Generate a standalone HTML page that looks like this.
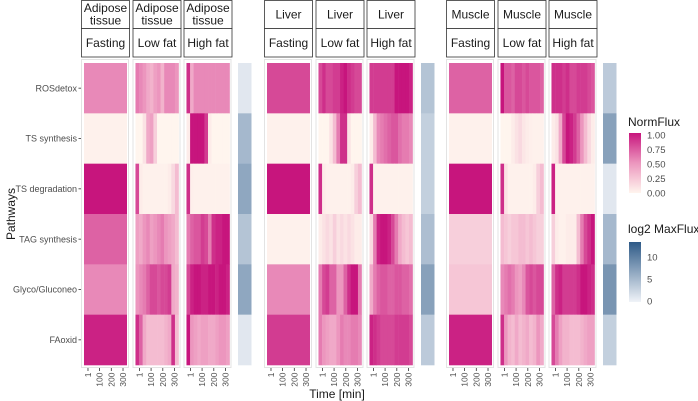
<!DOCTYPE html>
<html><head><meta charset="utf-8"><style>
body{margin:0;background:#fff;}
svg{font-family:"Liberation Sans",sans-serif;display:block}
</style></head><body>
<svg id="c" width="698" height="401" xmlns="http://www.w3.org/2000/svg"></svg>
<script>
const pathways = ["ROSdetox","TS synthesis","TS degradation","TAG synthesis","Glyco/Gluconeo","FAoxid"];
const tissues = ["Adipose tissue","Liver","Muscle"];
const conditions = ["Fasting","Low fat","High fat"];
const times = [-18,13,43,74,104,135,166,196,227,257,288,319];
const timeTicks = [1,100,200,300];
const normTicks = [0,0.25,0.5,0.75,1];
const maxTicks = [0,5,10];
const maxAdipose = [1,5,6.5,4,6.5,1];
const maxLiver = [4,3,3,4.5,7,3.5];
const maxMuscle = [3.5,7,1,5,8,3];
const adiFast = [[0.55],[0.02],[1],[0.7],[0.55],[0.95]];
const adiLow = [
 [0.6,0.55,0.5,0.4,0.35,0.45,0.5,0.35,0.55,0.55,0.55,0.5],
 [0,0,0.1,0.4,0.45,0.2,0,0,0,0,0,0],
 [0.8,0.05,0.02,0.02,0.02,0.02,0.02,0.02,0.02,0.05,0.15,0.3],
 [0.45,0.4,0.5,0.55,0.45,0.5,0.55,0.6,0.5,0.45,0.4,0.3],
 [0.5,0.55,0.6,0.7,0.8,0.8,0.75,0.8,0.8,0.85,0.4,0.35],
 [0.9,0.7,0.4,0.3,0.3,0.3,0.3,0.3,0.35,0.4,0.9,0.3]];
const adiHigh = [
 [0.9,0.4,0.55,0.55,0.55,0.55,0.55,0.55,0.55,0.55,0.55,0.55],
 [0.05,1,1,1,1,0.85,0.05,0,0,0,0,0],
 [0.9,0.03,0.02,0.02,0.02,0.02,0.02,0.02,0.02,0.02,0.02,0.02],
 [0.6,0.7,0.75,0.75,0.85,0.8,0.6,0.9,0.95,0.95,1,1],
 [0.8,0.95,1,1,0.95,0.95,1,1,0.95,1,1,0.95],
 [1,0.5,0.45,0.4,0.45,0.45,0.4,0.4,0.45,0.5,0.5,0.45]];
const livFast = [[0.8],[0.02],[1],[0.02],[0.55],[0.85]];
const livLow = [
 [0.8,0.9,0.8,0.8,0.85,0.85,0.95,1,0.9,0.85,0.8,0.8],
 [0,0,0,0.1,0.3,0.6,0.9,0.9,0.1,0,0,0],
 [0.9,0.05,0.02,0.02,0.02,0.02,0.02,0.02,0.02,0.05,0.2,0.3],
 [0.05,0.1,0.15,0.1,0.2,0.1,0.15,0.1,0.15,0.1,0.05,0.05],
 [0.6,0.8,0.85,0.7,0.7,0.5,0.5,0.7,0.9,1,1,0.6],
 [0.6,0.5,0.45,0.4,0.4,0.5,0.6,0.55,0.55,0.6,0.6,0.55]];
const livHigh = [
 [0.85,0.85,0.85,0.85,0.85,0.85,0.85,1,1,1,1,0.95],
 [0.05,0.3,0.55,0.6,0.65,0.7,0.75,0.75,0.65,0.6,0.6,0.55],
 [0.9,0.02,0.02,0.02,0.02,0.02,0.02,0.02,0.02,0.02,0.02,0.02],
 [0.15,0.6,0.95,1,1,0.95,0.8,0.6,0.4,0.3,0.25,0.3],
 [0.4,0.6,0.7,0.75,0.75,0.7,0.7,0.75,0.75,0.7,0.7,0.65],
 [0.95,0.9,0.85,0.8,0.8,0.8,0.8,0.85,0.85,0.85,0.85,0.8]];
const musFast = [[0.7],[0.02],[1],[0.2],[0.25],[0.95]];
const musLow = [
 [1,0.75,0.75,0.7,0.8,0.8,0.75,0.8,0.75,0.75,0.75,0.7],
 [0,0,0,0.05,0.1,0.15,0.08,0.05,0.03,0.02,0.02,0.02],
 [0.9,0.1,0.02,0.02,0.02,0.02,0.02,0.02,0.02,0.05,0.2,0.3],
 [0.3,0.25,0.2,0.25,0.25,0.3,0.3,0.25,0.3,0.25,0.2,0.2],
 [0.55,0.6,0.65,0.6,0.5,0.45,0.55,0.75,0.8,0.75,0.8,0.8],
 [0.9,0.5,0.35,0.3,0.4,0.3,0.35,0.4,0.3,0.35,0.5,0.4]];
const musHigh = [
 [0.9,0.9,0.9,0.85,0.9,0.8,0.8,0.85,0.85,0.85,0.8,0.75],
 [0.05,0.1,0.4,0.8,1,0.95,0.85,0.7,0.5,0.3,0.15,0.05],
 [0.95,0.02,0.02,0.02,0.02,0.02,0.02,0.02,0.02,0.02,0.02,0.02],
 [0.2,0.05,0.02,0.02,0.05,0.05,0.05,0.3,0.6,0.8,0.9,1],
 [0.7,0.9,0.95,0.85,0.85,0.85,0.85,0.9,1,1,0.95,0.9],
 [0.8,0.6,0.45,0.35,0.35,0.3,0.3,0.3,0.35,0.4,0.45,0.45]];

const NS="http://www.w3.org/2000/svg";
const svg=document.getElementById('c');
function mk(tag,attrs,parent){const e=document.createElementNS(NS,tag);for(const k in attrs)e.setAttribute(k,attrs[k]);(parent||svg).appendChild(e);return e;}
function lerp(a,b,t){return a.map((v,i)=>Math.round(v+(b[i]-v)*t));}
function pink(v){v=Math.max(0,Math.min(1,v));const c0=[255,245,238],c1=[236,150,190],c2=[199,21,125];
 const c=v<0.5?lerp(c0,c1,v/0.5):lerp(c1,c2,(v-0.5)/0.5);return `rgb(${c.join(',')})`;}
function blue(v){const t=Math.max(0,Math.min(1,v/13));const c=lerp([240,243,248],[46,90,135],t);return `rgb(${c.join(',')})`;}
const x0Dom=-33,x1Dom=334, hmW=43;
function xs(t,left){return left+(t-x0Dom)/(x1Dom-x0Dom)*hmW;}
const topY=63, rowH=(365-63)/6;
function ys(i){return topY+i*rowH;}

const groupX=[81,264,446];
const panelOff=[0,51.5,102.5];
const data=[[adiFast,adiLow,adiHigh],[livFast,livLow,livHigh],[musFast,musLow,musHigh]];
const maxes=[maxAdipose,maxLiver,maxMuscle];
const binW=(x1Dom-x0Dom)/times.length;

tissues.forEach((tis,g)=>{
 conditions.forEach((cond,p)=>{
  const bx=groupX[g]+panelOff[p];
  const grp=mk('g',{});
  
  
  const s1=mk('rect',{x:bx+0.5,y:0.5,width:48,height:28,fill:'#fff',stroke:'#333','stroke-width':0.8},grp);
  
  
  const s2=mk('rect',{x:bx+0.5,y:28.5,width:48,height:28.5,fill:'#fff',stroke:'#333','stroke-width':0.8},grp);
  
  
  const words=tis==="Adipose tissue"?["Adipose","tissue"]:[tis];
  words.forEach((w,i)=>{const t=mk('text',{x:bx+24.5,y:words.length==2?(12+i*12.5):18.5,'text-anchor':'middle','font-size':12,fill:'#1a1a1a'},grp);t.textContent=w;
   
   });
  const ct=mk('text',{x:bx+24.5,y:47,'text-anchor':'middle','font-size':12,fill:'#1a1a1a'},grp);ct.textContent=cond;
  
  
  const pb=mk('rect',{x:bx+0.5,y:59.5,width:47,height:308,fill:'#fff',stroke:'#e3e3e3','stroke-width':1},grp);
  
  
  const left=bx+3;
  data[g][p].forEach((row,r)=>{
   if(row.length===1){
    const c=mk('rect',{x:xs(x0Dom,left),y:ys(r),width:xs(x1Dom,left)-xs(x0Dom,left),height:rowH+0.3,fill:pink(row[0])},grp);
    
    
   } else {
    row.forEach((v,k)=>{
     const a=xs(times[k]-binW/2,left),b=xs(times[k]+binW/2,left);
     const c=mk('rect',{x:a,y:ys(r),width:b-a+0.3,height:rowH+0.3,fill:pink(v)},grp);
     
     
    });
   }
  });
  timeTicks.forEach(t=>{
   const x=xs(t,left);
   const tk=mk('line',{x1:x,x2:x,y1:368,y2:371,stroke:'#333','stroke-width':0.8},grp);
   
   
   const lb=mk('text',{x:0,y:0,transform:`translate(${x+3},372.5) rotate(-90)`,'text-anchor':'end','font-size':8.5,fill:'#4d4d4d'},grp);
   lb.textContent=t;
   
   
  });
 });
 const barX=groupX[g]+157;
 maxes[g].forEach((v,r)=>{
  const b=mk('rect',{x:barX,y:ys(r),width:13.5,height:rowH+0.3,fill:blue(v)});
  
  
 });
});
pathways.forEach((p,r)=>{
 const y=ys(r)+rowH/2;
 const t=mk('text',{x:77,y:y+3.2,'text-anchor':'end','font-size':9,fill:'#4d4d4d'});t.textContent=p;
 
 
 const tk=mk('line',{x1:78.5,x2:81,y1:y,y2:y,stroke:'#333','stroke-width':0.8});
 
 
});
const yt=mk('text',{x:0,y:0,transform:'translate(15,214) rotate(-90)','text-anchor':'middle','font-size':12,fill:'#1a1a1a'});yt.textContent='Pathways';


const xt=mk('text',{x:337,y:398,'text-anchor':'middle','font-size':12,fill:'#1a1a1a'});xt.textContent='Time [min]';


const defs=mk('defs',{});
const g1=mk('linearGradient',{id:'gp',x1:0,y1:1,x2:0,y2:0},defs);
[0,0.25,0.5,0.75,1].forEach(v=>mk('stop',{offset:v,'stop-color':pink(v)},g1));
const g2=mk('linearGradient',{id:'gb',x1:0,y1:1,x2:0,y2:0},defs);
[0,0.5,1].forEach(v=>mk('stop',{offset:v,'stop-color':blue(v*13)},g2));
const lt1=mk('text',{x:628,y:126,'font-size':12,fill:'#1a1a1a'});lt1.textContent='NormFlux';


const cb1=mk('rect',{x:629,y:133,width:12,height:60,fill:'url(#gp)'});


normTicks.forEach(v=>{const y=193-v*58;const t=mk('text',{x:647,y:y+3.5,'font-size':9.5,fill:'#4d4d4d'});t.textContent=v.toFixed(2);
 
 });
const lt2=mk('text',{x:628,y:233,'font-size':12,fill:'#1a1a1a'});lt2.textContent='log2 MaxFlux';


const cb2=mk('rect',{x:629,y:242,width:12,height:60,fill:'url(#gb)'});


maxTicks.forEach(v=>{const y=301-v*4.4;const t=mk('text',{x:647,y:y+3.5,'font-size':9.5,fill:'#4d4d4d'});t.textContent=v;
 
 });
</script>
</body></html>
